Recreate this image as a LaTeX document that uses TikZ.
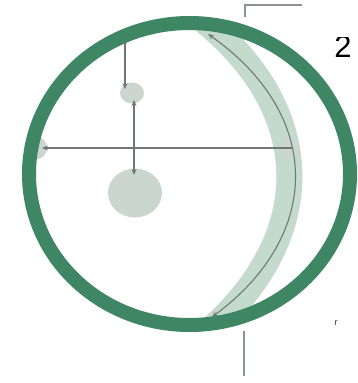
\documentclass[tikz,border=0pt]{standalone}
\usepackage{fontspec}
\setmainfont{Liberation Sans}
\usetikzlibrary{arrows.meta,shapes.geometric}
\definecolor{ringgreen}{RGB}{62,134,100}
\definecolor{bandgreen}{RGB}{196,218,205}
\definecolor{blobgray}{RGB}{204,214,208}
\definecolor{linegray}{RGB}{112,120,116}
\tikzset{
  ring/.style={draw=ringgreen,line width=14pt},
  band/.style={draw=bandgreen,line width=26pt},
  blob/.style={ellipse,fill=blobgray,draw=none,inner sep=0pt},
  guide/.style={draw=linegray,line width=1.3pt},
  tip/.style={-{Stealth[length=6pt,width=5pt]}},
  leader/.style={draw=linegray!80,line width=1.2pt},
}
\begin{document}
\begin{tikzpicture}[x=1pt,y=-1pt]
\useasboundingbox (0,0) rectangle (357,383);
\fill[white] (0,0) rectangle (357,383);
% lens band clipped to inside of ring
\begin{scope}
\clip (189.5,174) ellipse [x radius=160,y radius=151];
\draw[band] (193,12) .. controls (321,108) and (321,242) .. (196,342);
\end{scope}
% blobs
\node[blob,minimum width=24pt,minimum height=21pt] (sc) at (132,93) {};
\node[blob,minimum width=54pt,minimum height=49pt] (lc) at (135,193) {};
\node[blob,minimum width=20pt,minimum height=22pt] (rb) at (289,148) {};
\node[blob,minimum width=20pt,minimum height=22pt] (lb) at (37,148) {};
% coordinates
\coordinate (topstart) at (125,32);
\coordinate (topend) at (125,89);
\coordinate (vup) at (134,100);
\coordinate (vdown) at (134,175);
\coordinate (hl) at (42,148);
\coordinate (hr) at (292,148);
\coordinate (at) at (208,34);
\coordinate (ab) at (212,317);
% guide lines
\draw[guide,tip] (topstart) -- (topend);
\draw[guide,{Stealth[length=6pt,width=5pt]}-{Stealth[length=6pt,width=5pt]}] (vup) -- (vdown);
\draw[guide,tip] (hr) -- (hl);
\draw[guide,line width=1.1pt,{Stealth[length=6pt,width=5pt]}-{Stealth[length=6pt,width=5pt]}] (at) .. controls (323,115) and (323,235) .. (ab);
% ring
\draw[ring] (189.5,174) ellipse [x radius=160.5,y radius=151];
% leaders
\coordinate (l1) at (245,17);
\coordinate (l2) at (245,5);
\coordinate (l3) at (302,5);
\draw[leader] (l1) -- (l2) -- (l3);
\coordinate (l4) at (244,331);
\coordinate (l5) at (244,376);
\draw[leader] (l4) -- (l5);
% labels
\node[font=\fontsize{31pt}{31pt}\selectfont,inner sep=0pt] (n2) at (343,47) {2};
\fill[white] (320,20) -- (357,20) -- (357,37) -- (320,37) -- cycle;
\node[font=\fontsize{9pt}{9pt}\selectfont,inner sep=0pt,text=black!80] (nr) at (336,323) {r};
\end{tikzpicture}
\end{document}
